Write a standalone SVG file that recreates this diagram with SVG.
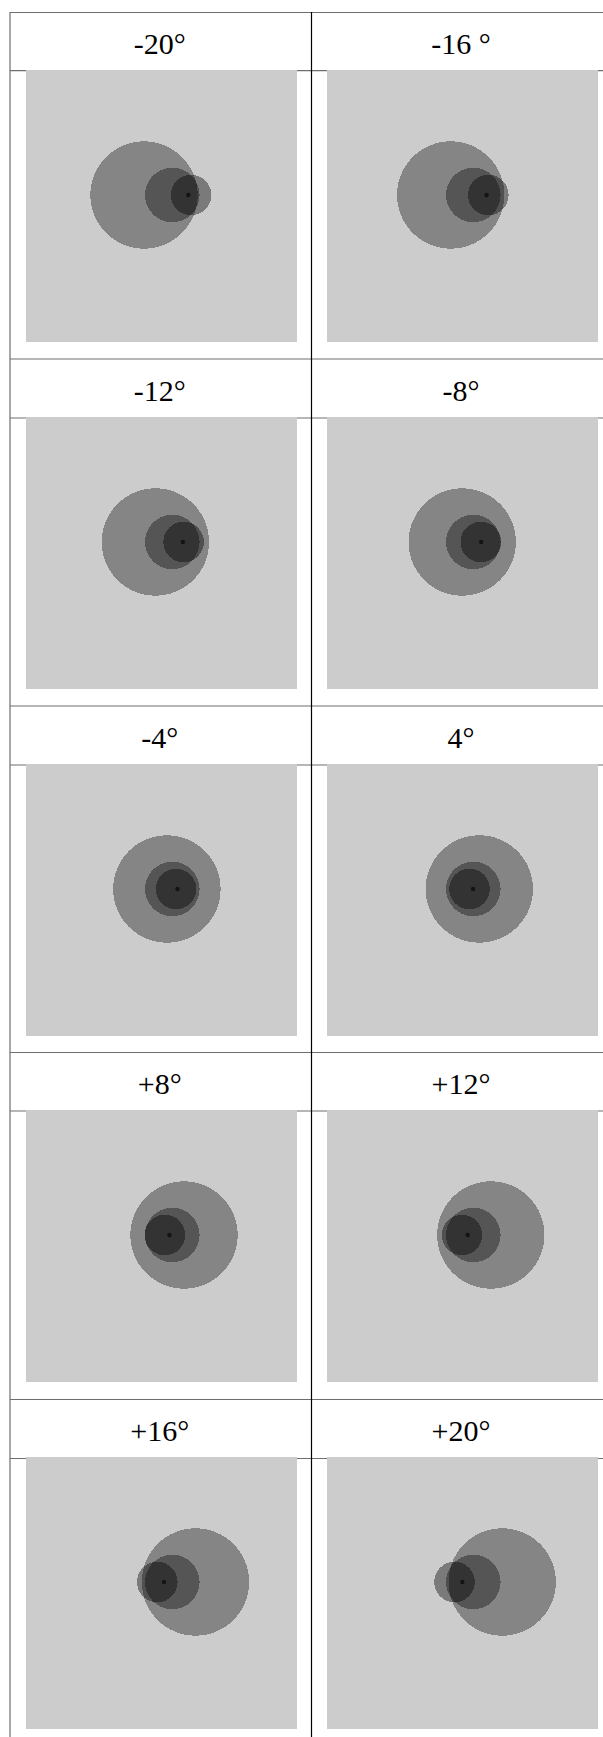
<svg xmlns="http://www.w3.org/2000/svg" width="603" height="1737" viewBox="0 0 603 1737">
<style>
.hl{stroke:#6e6e6e;stroke-width:1.2;fill:none}
.vl{stroke:#000;stroke-width:1.2;fill:none}
.bg{fill:#cccccc}
.lg{fill:#000;fill-opacity:0.35;shape-rendering:crispEdges}
.md{fill:#000;fill-opacity:0.36;shape-rendering:crispEdges}
.sm{fill:#000;fill-opacity:0.4;shape-rendering:crispEdges}
.dt{fill:#141414}
text{font-family:'Liberation Serif','Times New Roman',serif;font-size:30px;fill:#000;text-anchor:middle}
</style>
<rect x="0" y="0" width="603" height="1737" fill="#fff"/>
<g id="grid">
<line class="hl" x1="10" y1="12.5" x2="603" y2="12.5"/>
<line class="hl" x1="10" y1="70.7" x2="603" y2="70.7"/>
<line class="hl" x1="10" y1="359" x2="603" y2="359"/>
<line class="hl" x1="10" y1="418" x2="603" y2="418"/>
<line class="hl" x1="10" y1="706" x2="603" y2="706"/>
<line class="hl" x1="10" y1="765" x2="603" y2="765"/>
<line class="hl" x1="10" y1="1052.5" x2="603" y2="1052.5"/>
<line class="hl" x1="10" y1="1111" x2="603" y2="1111"/>
<line class="hl" x1="10" y1="1399.5" x2="603" y2="1399.5"/>
<line class="hl" x1="10" y1="1458.5" x2="603" y2="1458.5"/>
<line class="hl" x1="10" y1="12" x2="10" y2="1737"/>
<line class="vl" x1="311.5" y1="12" x2="311.5" y2="1737"/>
</g>
<g id="cell-m20">
<text x="159.7" y="53.5">-20°</text>
<rect class="bg" x="26" y="70" width="271" height="272"/>
<circle class="lg" cx="144" cy="195" r="53.7"/>
<circle class="md" cx="172.3" cy="195" r="27.3"/>
<circle class="sm" cx="191.1" cy="195" r="20.3"/>
<circle class="dt" cx="188.3" cy="195" r="2.2"/>
</g>
<g id="cell-m16">
<text x="461" y="53.5">-16 °</text>
<rect class="bg" x="327" y="70" width="271" height="272"/>
<circle class="lg" cx="450.7" cy="195" r="53.7"/>
<circle class="md" cx="473.3" cy="195" r="27.3"/>
<circle class="sm" cx="488.3" cy="195" r="20.3"/>
<circle class="dt" cx="486.6" cy="195" r="2.2"/>
</g>
<g id="cell-m12">
<text x="159.7" y="400.5">-12°</text>
<rect class="bg" x="26" y="417" width="271" height="272"/>
<circle class="lg" cx="155.4" cy="542" r="53.7"/>
<circle class="md" cx="172.3" cy="542" r="27.3"/>
<circle class="sm" cx="183.6" cy="542" r="20.3"/>
<circle class="dt" cx="182.9" cy="542" r="2.2"/>
</g>
<g id="cell-m8">
<text x="461" y="400.5">-8°</text>
<rect class="bg" x="327" y="417" width="271" height="272"/>
<circle class="lg" cx="462.2" cy="542" r="53.7"/>
<circle class="md" cx="473.3" cy="542" r="27.3"/>
<circle class="sm" cx="480.8" cy="542" r="20.3"/>
<circle class="dt" cx="481.2" cy="542" r="2.2"/>
</g>
<g id="cell-m4">
<text x="159.7" y="747.5">-4°</text>
<rect class="bg" x="26" y="764" width="271" height="272"/>
<circle class="lg" cx="166.9" cy="889" r="53.7"/>
<circle class="md" cx="172.3" cy="889" r="27.3"/>
<circle class="sm" cx="176.1" cy="889" r="20.3"/>
<circle class="dt" cx="177.5" cy="889" r="2.2"/>
</g>
<g id="cell-p4">
<text x="461" y="747.5">4°</text>
<rect class="bg" x="327" y="764" width="271" height="272"/>
<circle class="lg" cx="479.3" cy="889" r="53.7"/>
<circle class="md" cx="473.3" cy="889" r="27.3"/>
<circle class="sm" cx="469.5" cy="889" r="20.3"/>
<circle class="dt" cx="473.1" cy="889" r="2.2"/>
</g>
<g id="cell-p8">
<text x="159.7" y="1094">+8°</text>
<rect class="bg" x="26" y="1110" width="271" height="272"/>
<circle class="lg" cx="184" cy="1235" r="53.7"/>
<circle class="md" cx="172.3" cy="1235" r="27.3"/>
<circle class="sm" cx="164.8" cy="1235" r="20.3"/>
<circle class="dt" cx="169.4" cy="1235" r="2.2"/>
</g>
<g id="cell-p12">
<text x="461" y="1094">+12°</text>
<rect class="bg" x="327" y="1110" width="271" height="272"/>
<circle class="lg" cx="490.8" cy="1235" r="53.7"/>
<circle class="md" cx="473.3" cy="1235" r="27.3"/>
<circle class="sm" cx="462" cy="1235" r="20.3"/>
<circle class="dt" cx="467.7" cy="1235" r="2.2"/>
</g>
<g id="cell-p16">
<text x="159.7" y="1441">+16°</text>
<rect class="bg" x="26" y="1457" width="271" height="272"/>
<circle class="lg" cx="195.5" cy="1582" r="53.7"/>
<circle class="md" cx="172.3" cy="1582" r="27.3"/>
<circle class="sm" cx="157.3" cy="1582" r="20.3"/>
<circle class="dt" cx="164" cy="1582" r="2.2"/>
</g>
<g id="cell-p20">
<text x="461" y="1441">+20°</text>
<rect class="bg" x="327" y="1457" width="271" height="272"/>
<circle class="lg" cx="502.2" cy="1582" r="53.7"/>
<circle class="md" cx="473.3" cy="1582" r="27.3"/>
<circle class="sm" cx="454.5" cy="1582" r="20.3"/>
<circle class="dt" cx="462.3" cy="1582" r="2.2"/>
</g>
</svg>
